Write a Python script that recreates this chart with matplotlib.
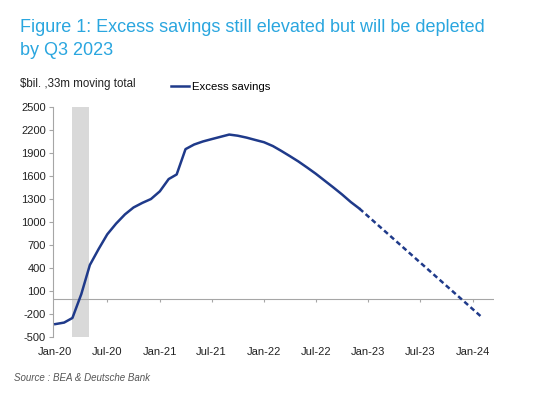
import matplotlib
matplotlib.use("Agg")
import matplotlib.pyplot as plt
import matplotlib.dates as mdates
import pandas as pd

plt.rcParams["font.family"] = ["Liberation Sans", "DejaVu Sans"]
plt.rcParams["axes.unicode_minus"] = False

# excess savings, $bn, 33m moving total (monthly, Jan-20 onwards)
actual_dates = pd.date_range("2020-01-01", "2022-12-01", freq="MS")
actual_vals = [-330, -310, -250, 60, 440, 650, 840, 980, 1100, 1190, 1250, 1300,
               1400, 1560, 1620, 1950, 2010, 2050, 2080, 2110, 2140, 2125, 2100, 2070,
               2040, 1990, 1930, 1860, 1790, 1710, 1630, 1540, 1450, 1360, 1260, 1175]
proj_dates = pd.to_datetime(["2022-12-01", "2024-02-01"])
proj_vals = [1175, -235]

recession = ("2020-02-27", "2020-04-27")
yticks = list(range(-500, 2501, 300))
xticks = pd.date_range("2020-01-01", "2024-01-01", freq="6MS")

blue = "#1f3a8a"
title_blue = "#2aa6df"

fig = plt.figure(figsize=(5.42, 3.99), dpi=100)
ax = fig.add_axes([0.0978, 0.155, 0.813, 0.577])

ax.axvspan(pd.Timestamp(recession[0]), pd.Timestamp(recession[1]),
           color="#d9d9d9", lw=0, zorder=1)
ax.axhline(0, color="#a6a6a6", lw=0.8, zorder=2)
ax.vlines(xticks[1:], -45, 0, color="#a6a6a6", lw=0.8, zorder=2)

ax.plot(actual_dates, actual_vals, color=blue, lw=1.8, zorder=3, label="Excess savings")
ax.plot(proj_dates, proj_vals, color=blue, lw=1.8, ls=(0, (2.0, 1.3)), zorder=3)

ax.set_ylim(-500, 2500)
ax.set_yticks(yticks)
ax.set_xlim(pd.Timestamp("2019-12-24"), pd.Timestamp("2024-03-15"))
ax.set_xticks(xticks)
ax.xaxis.set_major_formatter(mdates.DateFormatter("%b-%y"))

for s in ["top", "right", "bottom"]:
    ax.spines[s].set_visible(False)
ax.spines["left"].set_color("#a6a6a6")
ax.spines["left"].set_linewidth(0.8)
ax.tick_params(axis="y", length=3, color="#a6a6a6", labelsize=8, pad=2, labelcolor="#222222")
ax.tick_params(axis="x", length=0, labelsize=8, pad=7, labelcolor="#222222")

fig.text(0.037, 0.92, "Figure 1: Excess savings still elevated but will be depleted",
         color=title_blue, fontsize=13, va="baseline", ha="left")
fig.text(0.037, 0.862, "by Q3 2023", color=title_blue, fontsize=13, va="baseline", ha="left")
fig.text(0.037, 0.782, "$bil. ,33m moving total", fontsize=8.3, va="baseline", ha="left",
         color="#222222")
ax.legend(loc="lower left", bbox_to_anchor=(0.268, 1.065), frameon=False, fontsize=8.2,
          handlelength=1.6, handletextpad=0.25, borderaxespad=0, borderpad=0)
fig.text(0.026, 0.045, "Source : BEA & Deutsche Bank", fontsize=7, style="italic",
         color="#555555", va="baseline", ha="left")

fig.savefig("out.png", dpi=100)
